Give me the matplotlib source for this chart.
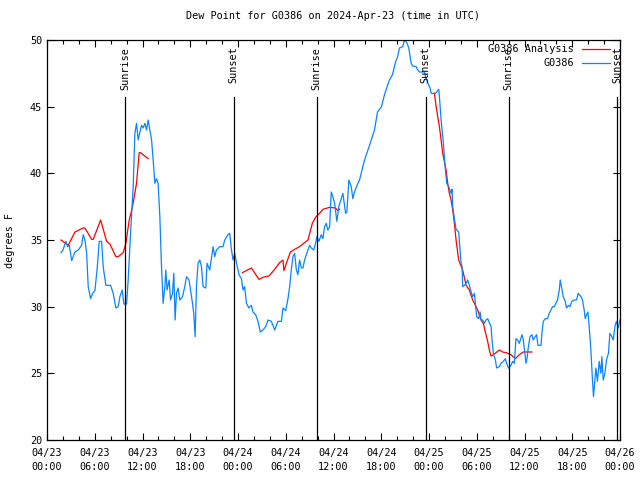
import numpy as np
import pandas as pd
import matplotlib
matplotlib.use('Agg')
import matplotlib.pyplot as plt
import matplotlib.dates as mdates

# hours since 2024-04-23 00:00 UTC, dew point in F
obs_hours = np.array([
	1.76, 1.97, 2.38, 2.60, 2.80, 3.10, 3.51, 3.93, 4.35, 4.55, 4.77, 4.98, 5.18, 5.48, 5.73, 6.02,
	6.31, 6.56, 6.86, 7.06, 7.40, 7.99, 8.32, 8.66, 8.95, 9.16, 9.45, 9.66, 10.0, 10.20, 10.50, 10.83,
	11.04, 11.25, 11.46, 11.67, 11.88, 12.08, 12.30, 12.51, 12.71, 12.92, 13.14, 13.34, 13.55, 13.76,
	13.96, 14.18, 14.39, 14.59, 14.81, 14.93, 15.09, 15.35, 15.52, 15.77, 15.93, 16.10, 16.27, 16.47,
	16.69, 17.03, 17.31, 17.53, 17.85, 18.28, 18.44, 18.61, 18.78, 18.98, 19.20, 19.41, 19.61, 19.95,
	20.11, 20.45, 20.87, 21.08, 21.29, 21.71, 22.12, 22.33, 22.75, 22.96, 23.17, 23.38, 23.59, 23.80,
	24.13, 24.43, 24.63, 24.84, 25.06, 25.38, 25.68, 25.88, 26.22, 26.51, 26.81, 27.14, 27.48, 27.77,
	28.19, 28.61, 29.02, 29.45, 29.65, 29.99, 30.28, 30.49, 30.70, 30.90, 31.12, 31.33, 31.53, 31.74,
	31.96, 32.16, 32.37, 32.58, 33.00, 33.21, 33.50, 33.75, 33.91, 34.17, 34.47, 34.67, 34.88, 35.09,
	35.29, 35.51, 35.72, 35.92, 36.14, 36.42, 36.67, 36.98, 37.18, 37.52, 37.68, 37.93, 38.23, 38.43,
	38.64, 39.06, 39.27, 39.90, 40.53, 41.15, 41.53, 42.03, 42.41, 42.79, 43.04, 43.41, 43.79, 44.04,
	44.29, 44.70, 44.92, 45.21, 45.46, 45.63, 45.76, 45.96, 46.39, 46.59, 46.80, 47.14, 47.43, 47.64,
	47.97, 48.14, 48.27, 48.81, 48.97, 49.22, 49.31, 49.40, 49.52, 49.65, 49.81, 49.94, 50.06, 50.23,
	50.48, 50.78, 50.90, 50.98, 51.19, 51.40, 51.73, 51.91, 52.03, 52.16, 52.23, 52.45, 52.66, 52.86,
	53.07, 53.29, 53.49, 53.70, 53.83, 53.99, 54.24, 54.42, 54.54, 54.74, 54.96, 55.17, 55.37, 55.58,
	55.80, 55.92, 56.09, 56.34, 56.50, 56.84, 57.05, 57.34, 57.59, 57.75, 58.00, 58.30, 58.51, 58.72,
	58.93, 59.13, 59.35, 59.69, 59.85, 59.97, 60.19, 60.31, 60.51, 60.69, 60.94, 61.10, 61.35, 61.52,
	61.69, 62.07, 62.19, 62.36, 62.61, 62.90, 63.11, 63.32, 63.53, 63.74, 63.95, 64.15, 64.37, 64.49,
	64.71, 64.87, 65.12, 65.28, 65.53, 65.71, 65.96, 66.25, 66.54, 66.75, 67.09, 67.29, 67.50, 67.63,
	67.79, 67.97, 68.13, 68.34, 68.54, 68.67, 68.85, 68.97, 69.17, 69.39, 69.60, 69.72, 69.89, 70.10,
	70.30, 70.55, 70.73, 70.98, 71.14, 71.39, 71.55, 71.77, 72.00])
obs_dewpt = np.array([
	34.05, 34.2, 34.9, 34.5, 34.6, 33.45, 34.1, 34.25, 34.6, 35.4, 35.0, 34.0, 31.5, 30.6, 31.0, 31.2,
	32.9, 34.9, 34.9, 33.0, 31.6, 31.6, 31.0, 29.9, 30.0, 30.75, 31.25, 30.2, 30.2, 32.0, 35.5, 39.0,
	43.0, 43.75, 42.5, 43.1, 43.6, 43.4, 43.75, 43.25, 44.0, 43.25, 42.5, 41.0, 39.25, 39.6,
	39.25, 36.75, 33.0, 30.25, 31.5, 32.75, 31.25, 32.0, 30.5, 31.0, 32.5, 29.0, 31.0, 31.4,
	30.5, 30.75, 31.5, 32.25, 32.0, 30.25, 29.5, 27.75, 31.5, 33.25, 33.5, 33.0, 31.5, 31.4,
	33.25, 32.75, 34.5, 33.75, 34.25, 34.5, 34.5, 35.0, 35.4, 35.5, 34.3, 33.5, 34.0, 33.3,
	32.4, 32.1, 31.25, 31.5, 30.25, 29.9, 30.1, 29.6, 29.4, 28.9, 28.1, 28.25, 28.5, 29.0,
	28.9, 28.25, 28.9, 28.9, 29.9, 29.7, 30.6, 31.5, 32.75, 33.75, 34.0, 32.75, 32.4, 33.5,
	32.9, 32.9, 33.5, 33.9, 34.6, 34.4, 34.25, 34.75, 35.25, 34.9, 35.4, 35.1, 36.0, 36.25,
	35.75, 36.0, 38.6, 38.25, 37.75, 36.4, 37.5, 38.1, 38.5, 37.0, 37.1, 39.5, 39.0, 38.1,
	38.6, 39.25, 39.5, 41.0, 42.1, 43.25, 44.6, 45.0, 45.9, 46.6, 47.0, 47.4, 48.35, 48.7,
	49.4, 49.5, 50.0, 49.8, 49.4, 48.75, 48.25, 48.05, 48.0, 47.75, 47.6, 47.6, 47.6, 47.1,
	46.6, 46.4, 46.0, 46.0, 46.1, 46.3, 45.75, 45.0, 44.0, 43.25, 42.25, 41.25, 40.25, 39.25,
	39.0, 38.5, 38.8, 37.5, 36.6, 35.8, 35.6, 34.25, 33.25, 33.0, 31.5, 31.6, 31.75, 32.0,
	31.6, 31.1, 30.75, 31.0, 30.25, 29.25, 29.1, 29.6, 29.0, 29.0, 28.75, 29.0, 29.1, 28.8,
	28.5, 27.5, 26.5, 26.0, 25.4, 25.5, 25.75, 25.9, 26.1, 25.75, 25.4, 25.6, 25.9, 25.75,
	27.6, 27.5, 27.25, 27.9, 27.5, 26.9, 25.75, 26.1, 27.1, 27.75, 27.9, 27.5, 27.75, 27.9,
	27.1, 27.1, 28.0, 28.9, 29.1, 29.1, 29.5, 29.75, 30.0, 30.0, 30.25, 30.5, 31.25, 32.0,
	31.25, 30.75, 30.4, 29.9, 30.1, 30.0, 30.4, 30.5, 30.5, 31.0, 30.75, 30.5, 29.75, 29.1,
	29.4, 29.6, 28.5, 26.75, 24.5, 23.25, 24.5, 25.4, 24.4, 25.9, 25.0, 26.25, 24.5, 25.0,
	26.0, 26.5, 28.0, 27.75, 27.5, 28.6, 28.9, 28.4, 29.0])

# analysis, three separate pieces
ana1_hours = np.array([1.76, 2.67, 3.51, 4.55, 4.77, 5.61, 5.81, 6.74, 7.49, 7.90, 8.66, 8.95, 9.57,
	9.91, 10.33, 10.75, 11.25, 11.58, 11.76, 12.71])
ana1_dewpt = np.array([35.0, 34.6, 35.6, 35.9, 35.9, 35.05, 35.05, 36.5, 34.9, 34.7, 33.75, 33.75, 34.05,
	34.75, 36.5, 37.5, 39.25, 41.55, 41.55, 41.1])
ana2_hours = np.array([24.55, 25.68, 26.64, 27.14, 27.89, 28.61, 29.23, 29.65, 29.77, 30.08, 30.58, 31.12,
	31.74, 32.25, 32.79, 33.34, 33.75, 34.25, 34.67, 35.51, 36.26, 36.55, 36.76])
ana2_dewpt = np.array([32.55, 32.9, 32.05, 32.2, 32.3, 32.8, 33.3, 33.5, 32.7, 33.25, 34.1, 34.3,
	34.5, 34.75, 35.0, 36.25, 36.7, 37.0, 37.3, 37.45, 37.4, 37.2, 37.3])
ana3_hours = np.array([48.68, 48.90, 49.10, 49.31, 49.52, 49.72, 50.15, 50.35, 50.56, 50.78, 50.98, 51.19,
	51.40, 51.73, 52.23, 52.66, 53.07, 53.49, 53.83, 54.12, 54.54, 54.83, 55.08, 55.37, 55.58, 55.80,
	56.21, 56.84, 57.25, 57.68, 58.30, 58.85, 59.35, 59.85, 60.94])
ana3_dewpt = np.array([46.0, 45.0, 44.25, 43.5, 42.5, 41.5, 40.25, 39.25, 38.5, 38.0, 37.25, 36.25,
	35.0, 33.5, 32.75, 31.6, 31.25, 30.5, 30.1, 29.75, 29.0, 28.75, 28.1, 27.4, 26.75, 26.3,
	26.45, 26.75, 26.6, 26.55, 26.4, 26.1, 26.4, 26.6, 26.6])

sun_hours = [9.79, 23.46, 33.90, 47.60, 58.00, 71.64]
sun_names = ['Sunrise', 'Sunset', 'Sunrise', 'Sunset', 'Sunrise', 'Sunset']

base = pd.Timestamp('2024-04-23 00:00')
def to_time(h):
	return base + pd.to_timedelta(np.asarray(h), unit='h')

plt.rcParams['font.family'] = 'DejaVu Sans Mono'
fs = 7.3
red = '#ff0000'
blue = '#0a84ff'

fig = plt.figure(figsize=(6.4, 4.8), dpi=100)
ax = fig.add_axes([47/640, 40/480, 573/640, 400/480])

for h, v in [(ana1_hours, ana1_dewpt), (ana2_hours, ana2_dewpt), (ana3_hours, ana3_dewpt)]:
	ax.plot(to_time(h), v, color=red, lw=0.9)
ax.plot(to_time(obs_hours), obs_dewpt, color=blue, lw=0.9)

for h, name in zip(sun_hours, sun_names):
	t = to_time(h)
	ax.axvline(t, ymin=0, ymax=0.857, color='black', lw=0.9)
	ax.text(t, 49.5, name, rotation=90, ha='center', va='top', fontsize=fs, clip_on=False)

ax.set_xlim(base, base + pd.Timedelta(hours=72))
ax.set_ylim(20, 50)
ax.set_yticks([20, 25, 30, 35, 40, 45, 50])
ax.xaxis.set_major_locator(mdates.HourLocator(byhour=[0, 6, 12, 18]))
ax.xaxis.set_minor_locator(mdates.HourLocator(byhour=range(0, 24, 2)))
ax.xaxis.set_major_formatter(mdates.DateFormatter('%m/%d\n%H:%M'))
ax.tick_params(which='both', direction='in', top=True, right=True, labelsize=fs, width=0.8)
ax.tick_params(which='major', length=5)
ax.tick_params(which='minor', length=3)
ax.tick_params(axis='x', pad=6)
for lab in ax.get_xticklabels():
	lab.set_linespacing(1.5)
for s in ax.spines.values():
	s.set_linewidth(0.9)

ax.set_title('Dew Point for G0386 on 2024-Apr-23 (time in UTC)', fontsize=fs, pad=15)
ax.set_ylabel('degrees F', fontsize=fs, labelpad=11)

# legend, gnuplot style: text right aligned, sample on the right
for i, (lab, c) in enumerate([('G0386 Analysis', red), ('G0386', blue)]):
	y = 0.9775 - i * 0.035
	ax.text(0.92, y, lab, transform=ax.transAxes, ha='right', va='center', fontsize=fs)
	ax.plot([0.934, 0.9825], [y, y], transform=ax.transAxes, color=c, lw=0.9)

fig.savefig('out.png', dpi=100)
